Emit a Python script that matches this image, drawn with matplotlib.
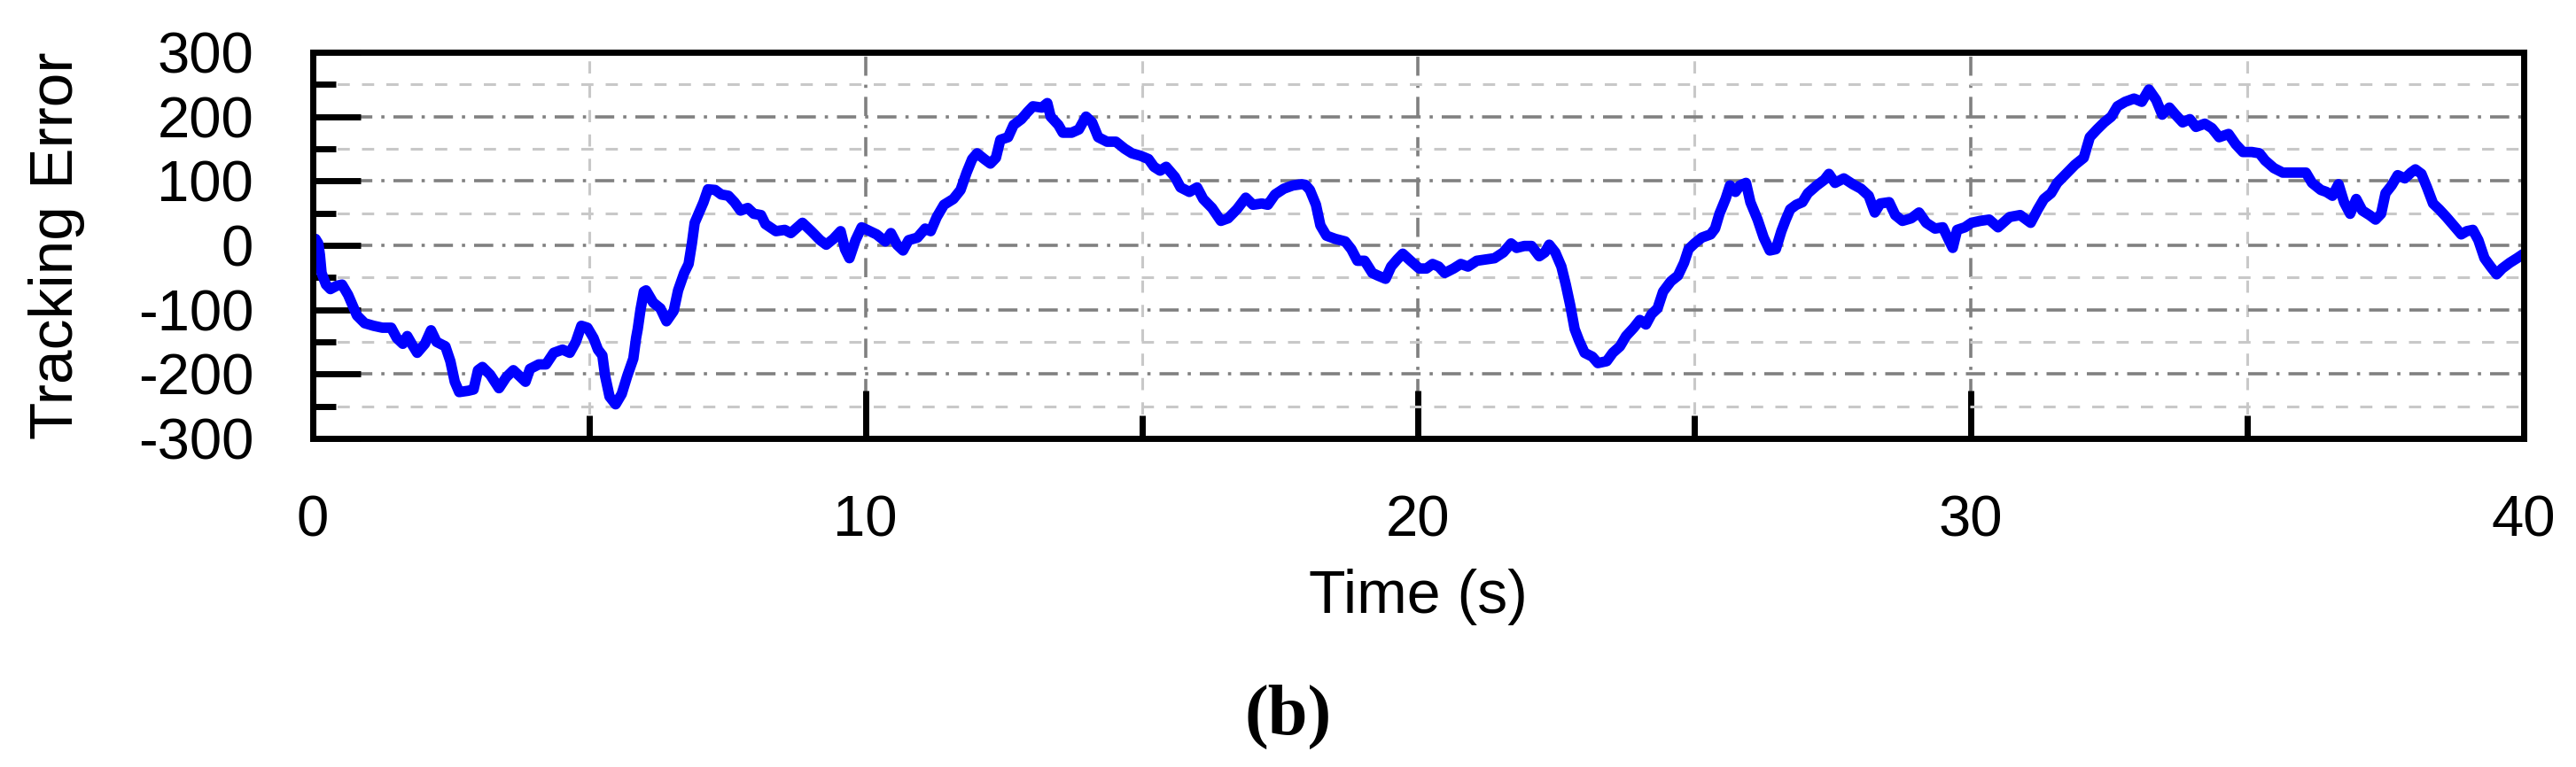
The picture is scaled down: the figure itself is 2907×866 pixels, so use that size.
import matplotlib.pyplot as plt
from matplotlib.ticker import MultipleLocator

# values
time_s = [0.0, 0.05, 0.1, 0.13, 0.16, 0.24, 0.32, 0.43, 0.53, 0.64, 0.72, 0.80, 0.94,
          1.10, 1.26, 1.42, 1.52, 1.63, 1.71, 1.79, 1.89, 2.03, 2.14, 2.24, 2.40, 2.49,
          2.57, 2.65, 2.81, 2.91, 2.99, 3.07, 3.21, 3.37, 3.50, 3.63, 3.74, 3.85, 3.93,
          4.09, 4.22, 4.36, 4.52, 4.65, 4.76, 4.86, 4.97, 5.08, 5.16, 5.24, 5.29, 5.37,
          5.48, 5.59, 5.69, 5.80, 5.85, 5.88, 5.93, 5.99, 6.03, 6.16, 6.29, 6.40, 6.53,
          6.61, 6.72, 6.80, 6.86, 6.91, 6.99, 7.07, 7.15, 7.28, 7.39, 7.52, 7.63, 7.74,
          7.87, 7.98, 8.11, 8.19, 8.38, 8.54, 8.65, 8.86, 9.02, 9.18, 9.29, 9.42, 9.55,
          9.63, 9.71, 9.82, 9.93, 10.03, 10.20, 10.36, 10.46, 10.57, 10.68, 10.78, 10.94,
          11.08, 11.18, 11.29, 11.42, 11.59, 11.72, 11.83, 11.93, 12.02, 12.15, 12.26,
          12.36, 12.44, 12.58, 12.68, 12.82, 12.93, 13.03, 13.19, 13.29, 13.35, 13.49,
          13.57, 13.73, 13.86, 13.99, 14.10, 14.21, 14.37, 14.53, 14.69, 14.82, 14.98,
          15.12, 15.22, 15.33, 15.44, 15.60, 15.70, 15.86, 16.00, 16.11, 16.27, 16.43,
          16.56, 16.72, 16.88, 17.01, 17.17, 17.28, 17.41, 17.57, 17.73, 17.89, 17.96,
          18.04, 18.15, 18.23, 18.34, 18.50, 18.68, 18.79, 18.90, 19.03, 19.17, 19.27,
          19.41, 19.51, 19.62, 19.72, 19.86, 20.02, 20.15, 20.26, 20.37, 20.48, 20.64,
          20.77, 20.90, 21.06, 21.22, 21.38, 21.54, 21.68, 21.78, 21.92, 22.05, 22.19,
          22.29, 22.37, 22.48, 22.59, 22.67, 22.75, 22.83, 22.91, 23.01, 23.15, 23.25,
          23.41, 23.52, 23.65, 23.76, 23.90, 24.01, 24.12, 24.22, 24.33, 24.43, 24.57,
          24.70, 24.81, 24.89, 25.00, 25.13, 25.29, 25.37, 25.45, 25.56, 25.64, 25.74,
          25.82, 25.93, 26.01, 26.14, 26.25, 26.36, 26.47, 26.57, 26.65, 26.73, 26.84,
          26.95, 27.05, 27.21, 27.35, 27.43, 27.54, 27.70, 27.86, 28.01, 28.15, 28.26,
          28.36, 28.52, 28.63, 28.76, 28.92, 29.06, 29.19, 29.35, 29.49, 29.59, 29.67,
          29.75, 29.89, 30.01, 30.17, 30.33, 30.49, 30.70, 30.89, 31.08, 31.21, 31.32,
          31.45, 31.56, 31.72, 31.88, 32.04, 32.15, 32.28, 32.41, 32.54, 32.65, 32.79,
          32.95, 33.09, 33.22, 33.35, 33.46, 33.59, 33.70, 33.83, 33.96, 34.07, 34.23,
          34.36, 34.49, 34.66, 34.79, 34.92, 35.08, 35.22, 35.32, 35.48, 35.64, 35.83,
          36.06, 36.17, 36.33, 36.43, 36.54, 36.65, 36.75, 36.86, 36.97, 37.08, 37.21,
          37.32, 37.42, 37.50, 37.61, 37.72, 37.85, 37.96, 38.04, 38.15, 38.25, 38.36,
          38.47, 38.60, 38.73, 38.87, 38.97, 39.08, 39.18, 39.29, 39.40, 39.51, 39.61,
          39.75, 39.88, 40.0]

tracking_error = [8, 10, 3, -15, -43, -61, -68, -63, -61, -77, -93, -109, -121,
                  -125, -128, -128, -144, -153, -141, -153, -167, -153, -132, -150, -157, -180,
                  -212, -228, -226, -224, -194, -189, -201, -222, -205, -194, -203, -212, -192,
                  -185, -185, -167, -162, -167, -150, -125, -128, -144, -162, -171, -203, -235,
                  -247, -231, -203, -176, -144, -130, -100, -72, -70, -89, -98, -118, -102,
                  -70, -43, -29, 3, 35, 51, 67, 87, 86, 79, 77, 67, 54,
                  58, 49, 47, 33, 22, 24, 19, 35, 22, 8, 1, 10, 22,
                  -6, -20, 8, 28, 24, 17, 6, 19, 1, -8, 8, 12,
                  26, 22, 44, 63, 72, 86, 113, 134, 143, 134, 127,
                  136, 164, 168, 187, 196, 207, 216, 214, 221, 200, 187,
                  175, 175, 180, 200, 191, 168, 161, 161, 150, 143, 139,
                  134, 122, 116, 122, 106, 90, 83, 90, 72, 58, 38,
                  42, 56, 74, 63, 65, 63, 79, 88, 93, 95, 94,
                  86, 63, 31, 15, 10, 6, -6, -24, -24, -43, -47,
                  -52, -33, -22, -13, -24, -36, -36, -29, -33, -43, -36,
                  -29, -33, -24, -22, -20, -11, 3, -4, -1, -1, -17,
                  -11, 1, -11, -33, -61, -93, -130, -148, -167, -173, -183,
                  -180, -167, -157, -141, -128, -116, -123, -107, -98, -72, -56,
                  -47, -27, -6, 3, 12, 17, 26, 49, 72, 93, 83,
                  93, 97, 67, 40, 12, -8, -6, 22, 40, 56, 63,
                  67, 81, 93, 102, 111, 97, 104, 95, 88, 77, 51,
                  65, 67, 47, 38, 42, 51, 35, 26, 28, 10, -4,
                  24, 28, 35, 38, 40, 28, 44, 47, 35, 56, 72,
                  81, 97, 111, 125, 136, 168, 180, 191, 200, 216, 223,
                  228, 223, 242, 226, 203, 214, 203, 191, 196, 184, 189,
                  182, 168, 173, 157, 145, 145, 143, 132, 120, 113, 113,
                  113, 97, 86, 83, 77, 95, 67, 49, 72, 54, 47,
                  40, 49, 81, 93, 109, 104, 113, 118, 111, 90, 65,
                  56, 44, 31, 17, 22, 24, 8, -20, -33, -45, -36,
                  -27, -20, -13]

x_ticks = [0, 10, 20, 30, 40]
y_ticks = [-300, -200, -100, 0, 100, 200, 300]


def trackingPlot():
    plt.rcParams['font.family'] = ['Liberation Sans', 'DejaVu Sans']
    plt.rcParams['axes.unicode_minus'] = False  # plain hyphen like the original

    fig = plt.figure(figsize=(29.07, 8.66), dpi=100)
    ax = fig.add_axes([0.1214, 0.4284, 0.8583, 0.5035])

    ax.plot(time_s, tracking_error, color='#0000ff', linewidth=8.5,
            solid_joinstyle='round', solid_capstyle='butt')

    ax.set_xlim(0, 40)
    ax.set_ylim(-300, 300)
    ax.set_xticks(x_ticks)
    ax.set_yticks(y_ticks)
    ax.xaxis.set_minor_locator(MultipleLocator(5))
    ax.yaxis.set_minor_locator(MultipleLocator(50))

    # grid: dash-dot for major, light dashed for minor
    ax.set_axisbelow(True)
    ax.grid(which='major', color='#808080', linewidth=2.6, linestyle=(0, (6, 2.8, 1, 2.8)))
    ax.grid(which='minor', color='#c8c8c8', linewidth=2.2, linestyle=(0, (4.5, 4.5)))

    for s in ax.spines.values():
        s.set_linewidth(5)

    ax.tick_params(which='both', direction='in', top=False, right=False, width=5, colors='black')
    ax.tick_params(which='major', length=39)
    ax.tick_params(which='minor', length=19)
    ax.tick_params(axis='x', which='major', labelsize=47, pad=46)
    ax.tick_params(axis='y', which='major', labelsize=47, pad=48)

    ax.set_xlabel('Time (s)', fontsize=49)
    ax.xaxis.set_label_coords(0.5, -0.337)
    ax.set_ylabel('Tracking Error', fontsize=50)
    ax.yaxis.set_label_coords(-0.103, 0.5)

    fig.text(0.5, 0.065, '(b)', fontsize=58, fontweight='bold', family='Liberation Serif',
             ha='center', va='center')

    fig.savefig('out.png', dpi=100)


def main():
    trackingPlot()

main()
